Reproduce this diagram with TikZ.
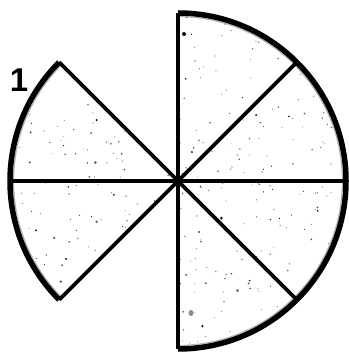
\documentclass[tikz,border=0pt]{standalone}
\usepackage{fontspec}
\setmainfont{Liberation Sans}
\begin{document}
\begin{tikzpicture}[x=1pt,y=1pt,
  rim/.style={line width=5.5pt, line join=miter},
  spoke/.style={line width=3.6pt},
  inner/.style={line width=1.2pt, black!30},
  label/.style={font=\bfseries\fontsize{33}{33}\selectfont, inner sep=0pt}]
\useasboundingbox (0,0) rectangle (348,352);
\begin{scope}[shift={(178,171)}]
\def\R{168}
\coordinate (c) at (0,0);
\foreach \a in {0,45,90,135,180,225,270,315}{\coordinate (p\a) at (\a:\R);}
% speckles
\begin{scope}
\clip (c) -- (p135) arc[start angle=135,end angle=225,radius=\R] -- cycle
      (c) -- (p90) arc[start angle=90,end angle=-90,radius=\R] -- cycle;
\pgfmathsetseed{11}
\foreach \i in {1,...,450}{
  \pgfmathsetmacro\xx{-\R+2*\R*rnd}
  \pgfmathsetmacro\yy{-\R+2*\R*rnd}
  \pgfmathsetmacro\rr{0.5+1.3*rnd*rnd*rnd}
  \pgfmathsetmacro\gg{45+55*rnd}
  \fill[black!\gg] (\xx,\yy) circle[radius=\rr];
}
\fill (150,128) circle[radius=2.6];
\fill (6,147) circle[radius=2];
\fill (-22,110) circle[radius=1.5];
\fill[black!40] (17,120) circle[radius=1];
\fill[black!45] (13,-132) ellipse[x radius=2.5,y radius=3];
\end{scope}
% inner gray edge of rim
\draw[inner] (135:\R-3.5) arc[start angle=135,end angle=225,radius=\R-3.5];
\draw[inner] (90:\R-3.5) arc[start angle=90,end angle=-90,radius=\R-3.5];
% spokes
\draw[spoke] (p90) -- (p270);
\draw[spoke] (p180) -- (p0);
\draw[spoke] (p135) -- (p315);
\draw[spoke] (p225) -- (p45);
% rims
\draw[rim] (p135) arc[start angle=135,end angle=225,radius=\R];
\draw[rim] (p90) arc[start angle=90,end angle=-90,radius=\R];
\end{scope}
\node[label] (one) at (19,272) {1};
\end{tikzpicture}
\end{document}
